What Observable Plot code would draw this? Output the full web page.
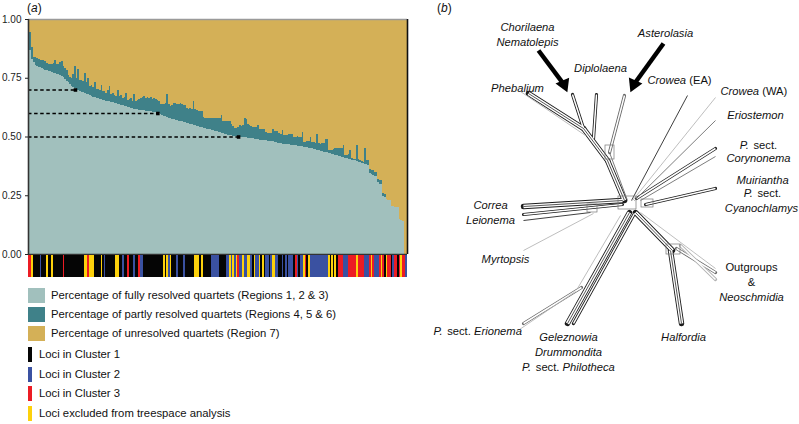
<!DOCTYPE html>
<html><head><meta charset="utf-8">
<script src="https://cdn.jsdelivr.net/npm/d3@7"></script>
<script src="https://cdn.jsdelivr.net/npm/@observablehq/plot@0.6"></script>
<style>
body{margin:0;background:#fff;font-family:"Liberation Sans",Arial,sans-serif;}
#wrap{position:relative;width:799px;height:424px;overflow:hidden;background:#fff;}
.lg{position:absolute;font-size:11.3px;line-height:15px;color:#111;white-space:nowrap;}
.sw{position:absolute;}
.ttl{position:absolute;font-size:12px;line-height:14px;color:#111;}
</style></head><body><div id="wrap"></div>
<script>
// ---------- Panel (a) data: one value per locus, sorted as in the figure ----------
const fullyResolved = [
.87,.87,.83,.815,.805,.80,.797,.794,.79,.787,
.785,.782,.78,.777,.775,.772,.77,.767,.764,.761,
.758,.752,.745,.738,.731,.724,.717,.711,.705,.70,
.697,.694,.691,.688,.685,.682,.679,.676,.673,.670,
.667,.665,.663,.661,.659,.657,.655,.653,.651,.649,
.647,.645,.643,.641,.639,.637,.635,.633,.631,.629,
.627,.625,.623,.621,.619,.617,.615,.614,.613,.612,
.611,.610,.609,.608,.607,.606,.605,.603,.601,.598,
.595,.592,.589,.586,.583,.580,.578,.576,.574,.572,
.570,.568,.566,.564,.562,.560,.558,.556,.554,.552,
.550,.548,.546,.544,.542,.540,.538,.536,.534,.532,
.530,.528,.526,.524,.522,.520,.518,.516,.514,.512,
.510,.508,.506,.505,.504,.503,.502,.501,.500,.499,
.498,.497,.496,.495,.494,.493,.492,.491,.490,.489,
.487,.486,.485,.484,.483,.482,.481,.480,.479,.478,
.476,.474,.472,.471,.470,.469,.468,.467,.466,.465,
.464,.463,.462,.461,.460,.459,.458,.457,.456,.455,
.453,.451,.449,.447,.445,.443,.441,.439,.437,.436,
.434,.432,.430,.428,.426,.424,.422,.420,.418,.416,
.414,.412,.410,.408,.406,.404,.402,.400,.398,.395,
.393,.390,.388,.386,.384,.382,.379,.345,.340,.336,
.334,.332,.305,.300,.298,.245,.242,.232,.230,.228,
.205,.203,.200,.200,.198,.148,.145,.142,0,0];

const partlyResolved = [
.076,.076,.05,.025,.033,.035,.031,.032,.036,.038,
.037,.030,.030,.033,.033,.040,.056,.043,.044,.057,
.062,.050,.045,.047,.029,.031,.033,.054,.095,.050,
.090,.046,.049,.047,.085,.048,.070,.040,.045,.040,
.065,.038,.040,.035,.060,.035,.040,.030,.045,.065,
.035,.040,.035,.030,.060,.035,.040,.030,.035,.055,
.030,.035,.040,.030,.060,.035,.040,.045,.050,.055,
.060,.055,.060,.055,.060,.055,.060,.055,.055,.055,
.045,.048,.050,.055,.097,.060,.052,.060,.068,.070,
.070,.072,.075,.074,.072,.075,.062,.063,.066,.065,
.100,.070,.066,.066,.068,.070,.045,.044,.046,.048,
.050,.052,.054,.056,.058,.060,.062,.074,.051,.053,
.055,.057,.059,.050,.040,.033,.035,.040,.050,.045,
.050,.081,.080,.057,.055,.052,.050,.048,.050,.061,
.043,.044,.045,.046,.035,.034,.036,.035,.051,.045,
.049,.050,.041,.040,.058,.037,.038,.039,.045,.044,
.046,.036,.038,.040,.039,.041,.062,.020,.022,.024,
.027,.049,.026,.028,.027,.067,.030,.030,.037,.038,
.056,.058,.013,.015,.017,.022,.028,.030,.032,.034,
.036,.052,.010,.012,.020,.039,.006,.005,.008,.069,
.012,.010,.008,.007,.066,.018,.020,.017,.018,.020,
.017,.016,.015,.014,.016,.013,.014,0,0,0,
0,0,0,0,0,0,0,0,0,0];

// cluster membership per locus: k = Cluster 1, b = Cluster 2, r = Cluster 3, y = excluded
const clusterCodes = (
"rrykkkkbkk"+"kykkykkkkk"+"krkkkkkkkk"+"kkkkyyryyy"+"kkkkykbkkk"+
"kkkyykkbkk"+"rkkkbkkrbb"+"kkkkkkkkkk"+"kkykybykkk"+"bkkkbkkkkk"+
"kyyykykkkk"+"kbbbbbkkkk"+"bbybybyrbb"+"ybbyybkybb"+"ykykbbkbyy"+
"bbkkbkbkbb"+"bkrbkbbyrk"+"ybbbbbbbbb"+"bbykykykrr"+"rbbbrrrrry"+
"rrrrbbbryr"+"bbbryrkyrr"+"kbrrkryrrb").split("");

const refLevels = [0.70, 0.60, 0.50];   // dashed reference levels
const refLoci   = [28, 78, 127];        // locus where each level is reached
const yTicks    = [0, 0.25, 0.50, 0.75, 1.00];

const quartetTypes  = ["fully", "partly", "unresolved"];
const quartetColors = ["#a1c0bd", "#3f8189", "#d4b057"];
const quartetLabels = ["Percentage of fully resolved quartets (Regions 1, 2 & 3)",
                       "Percentage of partly resolved quartets (Regions 4, 5 & 6)",
                       "Percentage of unresolved quartets (Region 7)"];
const clusterKeys   = ["k", "b", "r", "y"];
const clusterFill   = ["#050505", "#3a51a1", "#ec1c24", "#fdd10c"];
const clusterLabels = ["Loci in Cluster 1", "Loci in Cluster 2", "Loci in Cluster 3",
                       "Loci excluded from treespace analysis"];

// ---------- Panel (b) data: splits-network layout (hub at 0,0) ----------
// [x1, y1, x2, y2, parallel lines, tone]
const networkEdges = [
  [-99,110,-44,75,3,"d"], [-55,109,-44,75,2,"d"], [-44,75,-20,43,3,"d"], [-20,43,-3,3,3,"d"],
  [-31,109,-34,65,2,"d"], [-3,108,-18,51,2,"m"],
  [-104,-3,-5,3,3,"d"], [-104,-11,-5,-1,2,"d"],
  [2,-9,-60,-120,3,"d"], [7,-10,-54,-120,2,"d"], [-46,-84,-104,-120,2,"m"],
  [8,-9,45,-47,3,"d"], [43,-47,54,-120,3,"d"], [49,-45,88,-69,2,"m"], [53,-42,88,-76,2,"l"],
  [88,55,9,5,2,"d"], [88,15,18,-1,2,"d"],
  [-107,112,-42,68,1,"l"], [-18,51,0,3,1,"m"], [60,108,4,3,1,"d"], [88,106,5,3,1,"l"],
  [88,83,7,3,1,"m"], [88,47,13,3,1,"m"], [-104,-17,-37,-9,1,"d"], [-104,-47,-34,-10,1,"l"],
  [-50,-85,-7,-12,1,"l"], [13,-9,88,-65,1,"l"], [-108,-126,-52,-88,1,"l"]
];
const networkBoxes = [[-9,9,-6,7], [-22,-13,44,58], [39,53,-51,-41], [14,26,-4,4], [-40,-30,-9,-1]];
// arrows: [tailX, tailY, tipX, tipY]
const arrows = [[-89,153,-59,113], [36,160,2,113]];

const italicMiddle = [["Chorilaena",-100,176],["Nematolepis",-100,161],["Asterolasia",38,170],
  ["Diplolaena",-27,135],["Phebalium",-110,115],["Eriostemon",128,88],["Corynonema",131,45],
  ["Muiriantha",135,23],["Cyanochlamys",134,-5],["Correa",-137,-2],["Leionema",-137,-17],
  ["Myrtopsis",-122,-56],["Neoschmidia",124,-94],["Geleznowia",-59,-134],["Drummondita",-59,-149],
  ["Halfordia",56,-134]];
const italicEnd   = [["Crowea",58.6,123],["Crowea",131.6,112]];
const italicStart = [["P.",112.3,58],["P.",116.3,10],["P.",-194,-128],["Erionema",-153.5,-128],
                     ["P.",-105.4,-164],["Philotheca",-64.9,-164]];
const plainStart  = [["(EA)",61.7,123],["(WA)",134.7,112],["sect.",126,58],["sect.",130,10],
                     ["sect.",-180.3,-128],["sect.",-91.7,-164]];
const plainMiddle = [["Outgroups",124,-64],["&",124,-79]];

// ---------- build ----------
const FONT = "Liberation Sans, Arial, sans-serif";
const N = fullyResolved.length;
const qColor = Object.fromEntries(quartetTypes.map((t, i) => [t, quartetColors[i]]));
const cColor = Object.fromEntries(clusterKeys.map((k, i) => [k, clusterFill[i]]));
const loci = fullyResolved.map((f, i) => ({i, f, p: partlyResolved[i], c: clusterCodes[i]}));
const segs = loci.flatMap(d => [
  {i: d.i, y1: 0, y2: d.f, type: "fully"},
  {i: d.i, y1: d.f, y2: d.f + d.p, type: "partly"},
  {i: d.i, y1: d.f + d.p, y2: 1, type: "unresolved"}]);
const refs = refLevels.map((v, k) => ({v, x: refLoci[k] + 0.5}));

const wrap = document.getElementById("wrap");
function place(el, left, top) { el.style.position = "absolute"; el.style.left = left + "px"; el.style.top = top + "px"; wrap.appendChild(el); }

const plotA = Plot.plot({
  width: 415, height: 255, marginLeft: 28, marginRight: 8, marginTop: 19, marginBottom: 1,
  style: {fontFamily: FONT, background: "transparent", color: "#222", overflow: "visible"},
  x: {domain: [0, N], axis: null},
  y: {domain: [0, 1], axis: null},
  color: {type: "identity"},
  marks: [
    Plot.rect(segs, {x1: "i", x2: d => d.i + 1, y1: "y1", y2: "y2", fill: d => qColor[d.type], shapeRendering: "crispEdges"}),
    Plot.ruleY(refs, {y: "v", x1: () => 0, x2: "x", stroke: "#000", strokeWidth: 1.3, strokeDasharray: "3.5,2.6"}),
    Plot.dot(refs, {x: "x", y: "v", symbol: "square", r: 2, fill: "#000"}),
    Plot.ruleY([1], {stroke: "#9a9a9a", strokeWidth: 1.5}),
    Plot.ruleX([N], {stroke: "#111", strokeWidth: 1.6}),
    Plot.ruleY([0], {stroke: "#333", strokeWidth: 1.5}),
    Plot.ruleX([0], {stroke: "#333", strokeWidth: 1.6}),
    Plot.axisY(yTicks, {tickFormat: d3.format(".2f"), tickSize: 3, tickPadding: 4, fontSize: 10})
  ]
});
place(plotA, 0, 0);

const plotStrip = Plot.plot({
  width: 415, height: 22, marginLeft: 28, marginRight: 8, marginTop: 0, marginBottom: 0,
  style: {background: "transparent"},
  x: {domain: [0, N], axis: null},
  color: {type: "identity"},
  marks: [Plot.rect(loci, {x1: "i", x2: d => d.i + 1, fill: d => cColor[d.c], shapeRendering: "crispEdges"})]
});
place(plotStrip, 0, 255);

// legend
quartetLabels.forEach((t, k) => {
  const s = document.createElement("div"); s.className = "sw";
  s.style.cssText += `width:17px;height:15px;background:${quartetColors[k]};`;
  place(s, 28, 288 + 19 * k);
  const l = document.createElement("div"); l.className = "lg"; l.textContent = t;
  place(l, 51, 288 + 19 * k);
});
clusterLabels.forEach((t, k) => {
  const s = document.createElement("div"); s.className = "sw";
  s.style.cssText += `width:4px;height:15px;background:${clusterFill[k]};`;
  place(s, 28, 347 + 19.7 * k);
  const l = document.createElement("div"); l.className = "lg"; l.textContent = t;
  place(l, 39, 347 + 19.7 * k);
});
const ta = document.createElement("div"); ta.className = "ttl"; ta.innerHTML = "(<i>a</i>)"; place(ta, 27, 1);
const tb = document.createElement("div"); tb.className = "ttl"; tb.innerHTML = "(<i>b</i>)"; place(tb, 437, 1);

// panel (b)
const tone = {d: "#1c1c1c", m: "#666", l: "#b2b2b2"};
const tri = networkEdges.filter(e => e[4] === 3);
const dbl = networkEdges.filter(e => e[4] === 2);
const sgl = networkEdges.filter(e => e[4] === 1);
const L = {x1: e => e[0], y1: e => e[1], x2: e => e[2], y2: e => e[3]};
const shaft = arrows.map(a => {
  const dx = a[2] - a[0], dy = a[3] - a[1], len = Math.hypot(dx, dy);
  return {x1: a[0], y1: a[1], x2: a[2] - dx / len * 9, y2: a[3] - dy / len * 9,
          hx: a[2] - dx / len * 7.5, hy: a[3] - dy / len * 7.5,
          rot: Math.atan2(dx, dy) * 180 / Math.PI};
});
const T = (arr, opts) => Plot.text(arr, {x: d => d[1], y: d => d[2], text: d => d[0], fontSize: 11.2, fill: "#111", ...opts});

const plotB = Plot.plot({
  width: 384, height: 424, margin: 0,
  style: {fontFamily: FONT, background: "transparent", overflow: "visible"},
  x: {domain: [-212, 172], axis: null},
  y: {domain: [-221, 203], axis: null},
  color: {type: "identity"},
  marks: [
    Plot.link(tri, {...L, stroke: "#1c1c1c", strokeWidth: 5.4, strokeLinecap: "round"}),
    Plot.link(dbl, {...L, stroke: e => tone[e[5]], strokeWidth: 3.2, strokeLinecap: "round"}),
    Plot.link(tri, {...L, stroke: "#fff", strokeWidth: 3.6}),
    Plot.link(dbl, {...L, stroke: "#fff", strokeWidth: 1.5}),
    Plot.link(tri, {...L, stroke: "#444", strokeWidth: 0.9}),
    Plot.link(sgl, {...L, stroke: e => tone[e[5]], strokeWidth: 0.85}),
    Plot.rect(networkBoxes, {x1: d => d[0], x2: d => d[1], y1: d => d[2], y2: d => d[3], fill: "none", stroke: "#777", strokeWidth: 0.7}),
    Plot.link(shaft, {x1: "x1", y1: "y1", x2: "x2", y2: "y2", stroke: "#000", strokeWidth: 4.5}),
    Plot.dot(shaft, {x: "hx", y: "hy", symbol: "triangle", r: 5.5, fill: "#000", rotate: d => 180 - d.rot}),
    T(italicMiddle, {fontStyle: "italic"}),
    T(italicEnd, {fontStyle: "italic", textAnchor: "end"}),
    T(italicStart, {fontStyle: "italic", textAnchor: "start"}),
    T(plainStart, {textAnchor: "start"}),
    T(plainMiddle, {})
  ]
});
place(plotB, 415, 0);
</script></body></html>
